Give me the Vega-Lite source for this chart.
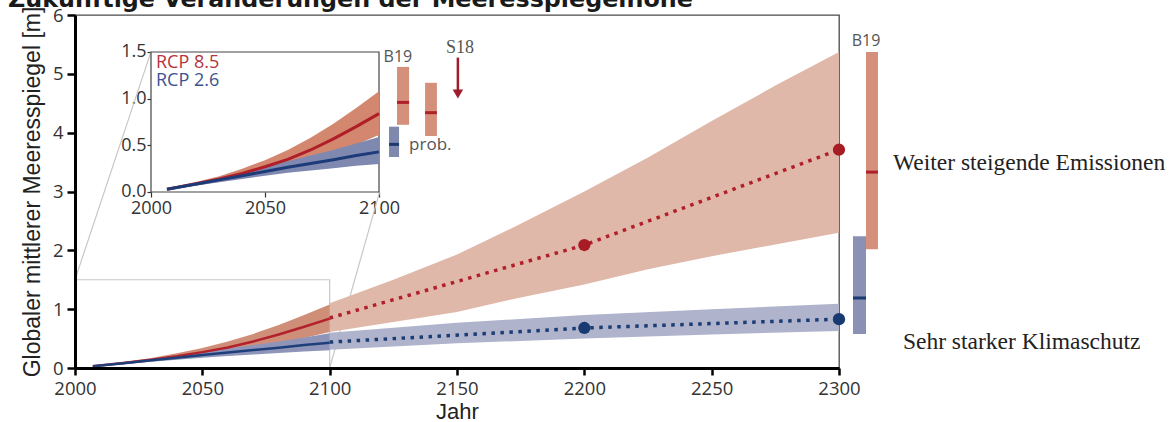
{
  "$schema": "https://vega.github.io/schema/vega-lite/v6.json",
  "autosize": {"type": "none"},
  "width": 764,
  "height": 353,
  "padding": {"left": 75, "top": 15, "right": 332, "bottom": 54},
  "background": "white",
  "config": {"view": {"stroke": "#4a4a4a", "strokeWidth": 1.3}, "font": "Open Sans"},
  "datasets": {
    "rcp85": [
      {"x": 2007, "med": 0.03, "lo": 0.02, "hi": 0.04},
      {"x": 2020, "med": 0.09, "lo": 0.07, "hi": 0.11},
      {"x": 2030, "med": 0.14, "lo": 0.11, "hi": 0.17},
      {"x": 2040, "med": 0.2, "lo": 0.16, "hi": 0.25},
      {"x": 2050, "med": 0.27, "lo": 0.21, "hi": 0.34},
      {"x": 2060, "med": 0.35, "lo": 0.27, "hi": 0.45},
      {"x": 2070, "med": 0.45, "lo": 0.34, "hi": 0.58},
      {"x": 2080, "med": 0.57, "lo": 0.42, "hi": 0.73},
      {"x": 2090, "med": 0.7, "lo": 0.51, "hi": 0.9},
      {"x": 2100, "med": 0.84, "lo": 0.61, "hi": 1.08}
    ],
    "rcp26": [
      {"x": 2007, "med": 0.03, "lo": 0.025, "hi": 0.035},
      {"x": 2020, "med": 0.085, "lo": 0.07, "hi": 0.1},
      {"x": 2030, "med": 0.13, "lo": 0.105, "hi": 0.155},
      {"x": 2040, "med": 0.175, "lo": 0.14, "hi": 0.21},
      {"x": 2050, "med": 0.22, "lo": 0.175, "hi": 0.27},
      {"x": 2060, "med": 0.265, "lo": 0.205, "hi": 0.33},
      {"x": 2070, "med": 0.305, "lo": 0.23, "hi": 0.39},
      {"x": 2080, "med": 0.345, "lo": 0.255, "hi": 0.45},
      {"x": 2090, "med": 0.39, "lo": 0.28, "hi": 0.52},
      {"x": 2100, "med": 0.43, "lo": 0.3, "hi": 0.59}
    ],
    "r85post": [
      {"x": 2100, "lo": 0.61, "hi": 1.1},
      {"x": 2125, "lo": 0.78, "hi": 1.5},
      {"x": 2150, "lo": 0.95, "hi": 1.93},
      {"x": 2175, "lo": 1.2, "hi": 2.45},
      {"x": 2200, "lo": 1.42, "hi": 3.0},
      {"x": 2225, "lo": 1.68, "hi": 3.58},
      {"x": 2250, "lo": 1.9, "hi": 4.2},
      {"x": 2275, "lo": 2.1, "hi": 4.8},
      {"x": 2300, "lo": 2.3, "hi": 5.37}
    ],
    "r26post": [
      {"x": 2100, "lo": 0.31, "hi": 0.6},
      {"x": 2150, "lo": 0.42, "hi": 0.77},
      {"x": 2200, "lo": 0.5, "hi": 0.9},
      {"x": 2250, "lo": 0.57, "hi": 1.0},
      {"x": 2300, "lo": 0.63, "hi": 1.09}
    ],
    "dot85": [
      {"x": 2100, "y": 0.85},
      {"x": 2200, "y": 2.09},
      {"x": 2300, "y": 3.71}
    ],
    "dot26": [
      {"x": 2100, "y": 0.44},
      {"x": 2200, "y": 0.68},
      {"x": 2300, "y": 0.83}
    ],
    "zoombox": [{"x": 2000, "x2": 2100, "y": 0, "y2": 1.5}],
    "connect": [
      {"x": 2000, "y": 1.5, "x2": 2029.8, "y2": 5.37},
      {"x": 2100, "y": 0, "x2": 2119.6, "y2": 2.99}
    ],
    "b19main": [
      {"s": "b", "x": 2305.5, "x2": 2310.6, "lo": 0.58, "hi": 2.24, "med": 1.19},
      {"s": "r", "x": 2310.6, "x2": 2315.3, "lo": 2.02, "hi": 5.37, "med": 3.33}
    ],
    "b19inset": [
      {"s": "b", "x": 2104.4, "x2": 2108.8, "lo": 0.375, "hi": 0.7, "med": 0.51},
      {"s": "r", "x": 2107.9, "x2": 2113.2, "lo": 0.72, "hi": 1.34, "med": 0.96},
      {"s": "r", "x": 2120.2, "x2": 2125.4, "lo": 0.6, "hi": 1.17, "med": 0.85}
    ],
    "insetframe": [{"x": 2000, "x2": 2100, "y": 0, "y2": 1.5}],
    "arrow": [{"x": 2134.6, "y": 1.44, "y2": 1.08}],
    "arrowhead": [{"x": 2134.6, "y": 1.05}]
  },
  "layer": [
    {
      "layer": [
        {
          "data": {"name": "zoombox"},
          "mark": {"type": "rect", "filled": false, "stroke": "#c8c8c8", "strokeWidth": 1.2},
          "encoding": {
            "x": {"field": "x", "type": "quantitative", "scale": {"domain": [2000, 2300], "nice": false, "zero": false},
              "axis": {"orient": "bottom", "values": [2000, 2050, 2100, 2150, 2200, 2250, 2300], "format": "d", "grid": false, "domainColor": "#000", "domainWidth": 3, "tickColor": "#000", "tickWidth": 2.5, "tickSize": 7, "labelFont": "Open Sans", "labelFontSize": 18.5, "labelColor": "#333", "labelPadding": 4, "labelOverlap": false, "labelBound": false, "labelFlush": false, "title": "Jahr", "titleFont": "Liberation Sans", "titleFontSize": 22, "titleFontWeight": "normal", "titleColor": "#222", "titlePadding": 4, "zindex": 1}},
            "x2": {"field": "x2"},
            "y": {"field": "y", "type": "quantitative", "scale": {"domain": [0, 6], "nice": false, "zero": false},
              "axis": {"orient": "left", "values": [0, 1, 2, 3, 4, 5, 6], "format": "d", "grid": false, "domainColor": "#000", "domainWidth": 3, "tickColor": "#000", "tickWidth": 2.5, "tickSize": 8, "labelFont": "Open Sans", "labelFontSize": 18.5, "labelColor": "#333", "labelPadding": 4, "labelOverlap": false, "labelBound": false, "labelFlush": false, "title": "Globaler mittlerer Meeresspiegel [m]", "titleFont": "Liberation Sans", "titleFontSize": 23, "titleFontWeight": "normal", "titleColor": "#222", "titlePadding": 8, "zindex": 1}},
            "y2": {"field": "y2"}
          }
        },
        {
          "data": {"name": "connect"},
          "mark": {"type": "rule", "stroke": "#c8c8c8", "strokeWidth": 1.2},
          "encoding": {
            "x": {"field": "x", "type": "quantitative"},
            "y": {"field": "y", "type": "quantitative"},
            "x2": {"field": "x2"},
            "y2": {"field": "y2"}
          }
        },
        {
          "data": {"name": "r85post"},
          "mark": {"type": "area", "color": "#e0b8a9"},
          "encoding": {
            "x": {"field": "x", "type": "quantitative"},
            "y": {"field": "lo", "type": "quantitative"},
            "y2": {"field": "hi"}
          }
        },
        {
          "data": {"name": "r26post"},
          "mark": {"type": "area", "color": "#afb3cb"},
          "encoding": {
            "x": {"field": "x", "type": "quantitative"},
            "y": {"field": "lo", "type": "quantitative"},
            "y2": {"field": "hi"}
          }
        },
        {
          "data": {"name": "rcp85"},
          "mark": {"type": "area", "color": "#cf8e78"},
          "encoding": {
            "x": {"field": "x", "type": "quantitative"},
            "y": {"field": "lo", "type": "quantitative"},
            "y2": {"field": "hi"}
          }
        },
        {
          "data": {"name": "rcp26"},
          "mark": {"type": "area", "color": "#8e95b8"},
          "encoding": {
            "x": {"field": "x", "type": "quantitative"},
            "y": {"field": "lo", "type": "quantitative"},
            "y2": {"field": "hi"}
          }
        },
        {
          "data": {"name": "rcp85"},
          "mark": {"type": "line", "color": "#b3222c", "strokeWidth": 2.5},
          "encoding": {
            "x": {"field": "x", "type": "quantitative"},
            "y": {"field": "med", "type": "quantitative"}
          }
        },
        {
          "data": {"name": "rcp26"},
          "mark": {"type": "line", "color": "#1f3f7a", "strokeWidth": 2.5},
          "encoding": {
            "x": {"field": "x", "type": "quantitative"},
            "y": {"field": "med", "type": "quantitative"}
          }
        },
        {
          "data": {"name": "dot85"},
          "mark": {"type": "line", "color": "#b01f2a", "strokeWidth": 3.5, "strokeDash": [3.5, 5.5], "strokeCap": "butt"},
          "encoding": {
            "x": {"field": "x", "type": "quantitative"},
            "y": {"field": "y", "type": "quantitative"}
          }
        },
        {
          "data": {"name": "dot26"},
          "mark": {"type": "line", "color": "#1b3d74", "strokeWidth": 3.5, "strokeDash": [3.5, 5.5], "strokeCap": "butt"},
          "encoding": {
            "x": {"field": "x", "type": "quantitative"},
            "y": {"field": "y", "type": "quantitative"}
          }
        },
        {
          "data": {"name": "dot85"},
          "transform": [{"filter": "datum.x >= 2200"}],
          "mark": {"type": "point", "shape": "circle", "filled": true, "size": 150, "color": "#a81c26", "opacity": 1},
          "encoding": {
            "x": {"field": "x", "type": "quantitative"},
            "y": {"field": "y", "type": "quantitative"}
          }
        },
        {
          "data": {"name": "dot26"},
          "transform": [{"filter": "datum.x >= 2200"}],
          "mark": {"type": "point", "shape": "circle", "filled": true, "size": 150, "color": "#173a70", "opacity": 1},
          "encoding": {
            "x": {"field": "x", "type": "quantitative"},
            "y": {"field": "y", "type": "quantitative"}
          }
        },
        {
          "data": {"name": "b19main"},
          "mark": {"type": "rect"},
          "encoding": {
            "x": {"field": "x", "type": "quantitative"},
            "x2": {"field": "x2"},
            "y": {"field": "lo", "type": "quantitative"},
            "y2": {"field": "hi"},
            "color": {"condition": {"test": "datum.s == 'r'", "value": "#d4907a"}, "value": "#8a91b4"}
          }
        },
        {
          "data": {"name": "b19main"},
          "mark": {"type": "rule", "strokeWidth": 3},
          "encoding": {
            "x": {"field": "x", "type": "quantitative"},
            "x2": {"field": "x2"},
            "y": {"field": "med", "type": "quantitative"},
            "color": {"condition": {"test": "datum.s == 'r'", "value": "#b0202a"}, "value": "#1c3a70"}
          }
        },
        {
          "data": {"values": [{"x": 2310.6, "y": 5.56, "t": "B19"}]},
          "mark": {"type": "text", "font": "Open Sans", "fontSize": 16, "color": "#555", "align": "center", "baseline": "middle"},
          "encoding": {
            "x": {"field": "x", "type": "quantitative"},
            "y": {"field": "y", "type": "quantitative"},
            "text": {"field": "t"}
          }
        },
        {
          "data": {"values": [{"x": 1973.7, "y": 6.13, "t": "Zukünftige Veränderungen der Meeresspiegelhöhe"}]},
          "mark": {"type": "text", "font": "DejaVu Sans", "fontSize": 23.8, "fontWeight": "bold", "color": "#1a1a1a", "align": "left", "baseline": "alphabetic"},
          "encoding": {
            "x": {"field": "x", "type": "quantitative"},
            "y": {"field": "y", "type": "quantitative"},
            "text": {"field": "t"}
          }
        },
        {
          "data": {"values": [
            {"x": 2321.2, "y": 3.49, "t": "Weiter steigende Emissionen"},
            {"x": 2325.1, "y": 0.44, "t": "Sehr starker Klimaschutz"}
          ]},
          "mark": {"type": "text", "font": "Liberation Serif", "fontSize": 23.5, "color": "#222", "align": "left", "baseline": "middle"},
          "encoding": {
            "x": {"field": "x", "type": "quantitative"},
            "y": {"field": "y", "type": "quantitative"},
            "text": {"field": "t"}
          }
        }
      ]
    },
    {
      "layer": [
        {
          "data": {"name": "insetframe"},
          "mark": {"type": "rect", "fill": "white", "stroke": "#444", "strokeWidth": 1.2},
          "encoding": {
            "x": {"field": "x", "type": "quantitative", "scale": {"domain": [1966.67, 2301.75], "nice": false, "zero": false},
              "axis": {"orient": "bottom", "offset": -176, "values": [2000, 2050, 2100], "format": "d", "grid": false, "domain": false, "tickColor": "#333", "tickWidth": 1.2, "tickSize": 5, "labelFont": "Open Sans", "labelFontSize": 18, "labelColor": "#333", "labelPadding": 2, "labelOverlap": false, "labelBound": false, "labelFlush": false, "title": null}},
            "x2": {"field": "x2"},
            "y": {"field": "y", "type": "quantitative", "scale": {"domain": [-1.8857, 1.8964], "nice": false, "zero": false},
              "axis": {"orient": "left", "offset": -76, "values": [0, 0.5, 1, 1.5], "format": ".1f", "grid": false, "domain": false, "tickColor": "#333", "tickWidth": 1.2, "tickSize": 4, "labelFont": "Open Sans", "labelFontSize": 18, "labelColor": "#333", "labelPadding": 1, "labelOverlap": false, "labelBound": false, "labelFlush": false, "title": null}},
            "y2": {"field": "y2"}
          }
        },
        {
          "data": {"name": "rcp85"},
          "mark": {"type": "area", "color": "#d2876e"},
          "encoding": {
            "x": {"field": "x", "type": "quantitative"},
            "y": {"field": "lo", "type": "quantitative"},
            "y2": {"field": "hi"}
          }
        },
        {
          "data": {"name": "rcp26"},
          "mark": {"type": "area", "color": "#7f88af"},
          "encoding": {
            "x": {"field": "x", "type": "quantitative"},
            "y": {"field": "lo", "type": "quantitative"},
            "y2": {"field": "hi"}
          }
        },
        {
          "data": {"name": "rcp85"},
          "mark": {"type": "line", "color": "#b01e28", "strokeWidth": 3},
          "encoding": {
            "x": {"field": "x", "type": "quantitative"},
            "y": {"field": "med", "type": "quantitative"}
          }
        },
        {
          "data": {"name": "rcp26"},
          "mark": {"type": "line", "color": "#1d3b78", "strokeWidth": 3},
          "encoding": {
            "x": {"field": "x", "type": "quantitative"},
            "y": {"field": "med", "type": "quantitative"}
          }
        },
        {
          "data": {"name": "b19inset"},
          "mark": {"type": "rect"},
          "encoding": {
            "x": {"field": "x", "type": "quantitative"},
            "x2": {"field": "x2"},
            "y": {"field": "lo", "type": "quantitative"},
            "y2": {"field": "hi"},
            "color": {"condition": {"test": "datum.s == 'r'", "value": "#d4907a"}, "value": "#7f88ad"}
          }
        },
        {
          "data": {"name": "b19inset"},
          "mark": {"type": "rule", "strokeWidth": 3},
          "encoding": {
            "x": {"field": "x", "type": "quantitative"},
            "x2": {"field": "x2"},
            "y": {"field": "med", "type": "quantitative"},
            "color": {"condition": {"test": "datum.s == 'r'", "value": "#b0202a"}, "value": "#1c3a70"}
          }
        },
        {
          "data": {"name": "arrow"},
          "mark": {"type": "rule", "color": "#a01c2a", "strokeWidth": 2.5},
          "encoding": {
            "x": {"field": "x", "type": "quantitative"},
            "y": {"field": "y", "type": "quantitative"},
            "y2": {"field": "y2"}
          }
        },
        {
          "data": {"name": "arrowhead"},
          "mark": {"type": "point", "shape": "triangle-down", "filled": true, "size": 110, "color": "#a01c2a", "opacity": 1},
          "encoding": {
            "x": {"field": "x", "type": "quantitative"},
            "y": {"field": "y", "type": "quantitative"}
          }
        },
        {
          "data": {"values": [
            {"x": 2108.3, "y": 1.45, "t": "B19"}
          ]},
          "mark": {"type": "text", "font": "Open Sans", "fontSize": 16, "color": "#555", "align": "center", "baseline": "middle"},
          "encoding": {
            "x": {"field": "x", "type": "quantitative"},
            "y": {"field": "y", "type": "quantitative"},
            "text": {"field": "t"}
          }
        },
        {
          "data": {"values": [
            {"x": 2113.2, "y": 0.5, "t": "prob."}
          ]},
          "mark": {"type": "text", "font": "Open Sans", "fontSize": 17, "color": "#555", "align": "left", "baseline": "middle"},
          "encoding": {
            "x": {"field": "x", "type": "quantitative"},
            "y": {"field": "y", "type": "quantitative"},
            "text": {"field": "t"}
          }
        },
        {
          "data": {"values": [
            {"x": 2135.5, "y": 1.54, "t": "S18"}
          ]},
          "mark": {"type": "text", "font": "Liberation Serif", "fontSize": 18, "color": "#555", "align": "center", "baseline": "middle"},
          "encoding": {
            "x": {"field": "x", "type": "quantitative"},
            "y": {"field": "y", "type": "quantitative"},
            "text": {"field": "t"}
          }
        },
        {
          "data": {"values": [
            {"x": 2002.2, "y": 1.38, "t": "RCP 8.5", "s": "r"},
            {"x": 2002.2, "y": 1.19, "t": "RCP 2.6", "s": "b"}
          ]},
          "mark": {"type": "text", "font": "Open Sans", "fontSize": 18, "align": "left", "baseline": "middle"},
          "encoding": {
            "x": {"field": "x", "type": "quantitative"},
            "y": {"field": "y", "type": "quantitative"},
            "text": {"field": "t"},
            "color": {"condition": {"test": "datum.s == 'r'", "value": "#b5343e"}, "value": "#3b5491"}
          }
        }
      ]
    }
  ],
  "resolve": {"scale": {"x": "independent", "y": "independent"}, "axis": {"x": "independent", "y": "independent"}}
}
